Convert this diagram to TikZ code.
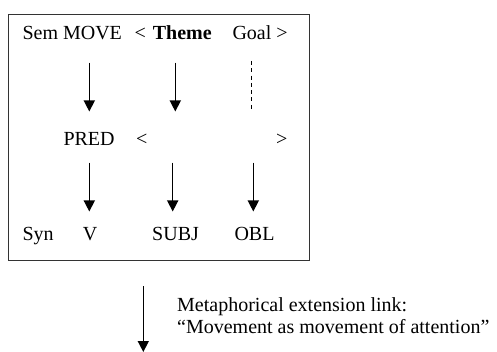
\documentclass[tikz,border=0pt]{standalone}
\usepackage{fontspec}
\setmainfont{Liberation Serif}
\usetikzlibrary{arrows.meta}
\begin{document}
\begin{tikzpicture}[x=1pt,y=-1pt,
  lbl/.style={anchor=base west,inner sep=0pt,font=\fontsize{20}{24}\selectfont},
  link/.style={line width=1.5pt,-{Triangle[length=11pt,width=11pt]}},
  weak/.style={line width=1.3pt,dash pattern=on 4pt off 3.3pt}]
\useasboundingbox (0,0) rectangle (497,352);
\node[draw=black!80,line width=1pt,inner sep=0pt,minimum width=301.5pt,minimum height=245.5pt,anchor=north west] (box) at (7.5,14.5) {};
% row 1
\node[lbl] (sem) at (22.3,40) {Sem MOVE};
\node[lbl] (lt1) at (134.3,40) {<};
\node[lbl] (theme) at (152.7,40) {\bfseries Theme};
\node[lbl] (goal) at (232.3,40) {Goal >};
% row 2
\node[lbl] (pred) at (63.3,146) {PRED};
\node[lbl] (lt2) at (136,146) {<};
\node[lbl] (gt2) at (276,146) {>};
% row 3
\node[lbl] (syn) at (22.3,240.7) {Syn};
\node[lbl] (v) at (82.7,240.7) {V};
\node[lbl] (subj) at (152,240.7) {SUBJ};
\node[lbl] (obl) at (234.3,240.7) {OBL};
% bottom text
\node[lbl] (meta1) at (177,311.5) {Metaphorical extension link:};
\node[lbl] (meta2) at (177,333.5) {“Movement as movement of attention”};
% arrow ends
\coordinate (a1s) at (89.3,62.7);  \coordinate (a1e) at (89.3,111.5);
\coordinate (a2s) at (175.3,62.7); \coordinate (a2e) at (175.3,111.5);
\coordinate (a3s) at (251.7,61);   \coordinate (a3e) at (251.7,111);
\coordinate (b1s) at (89.3,162.7); \coordinate (b1e) at (89.3,211.5);
\coordinate (b2s) at (172.7,162.7);\coordinate (b2e) at (172.7,211.5);
\coordinate (b3s) at (253.3,162.7);\coordinate (b3e) at (253.3,211.5);
\coordinate (cs) at (143.3,286);   \coordinate (ce) at (143.3,352);
\draw[link] (a1s) -- (a1e);
\draw[link] (a2s) -- (a2e);
\draw[weak] (a3s) -- (a3e);
\draw[link] (b1s) -- (b1e);
\draw[link] (b2s) -- (b2e);
\draw[link] (b3s) -- (b3e);
\draw[link] (cs) -- (ce);
\end{tikzpicture}
\end{document}
